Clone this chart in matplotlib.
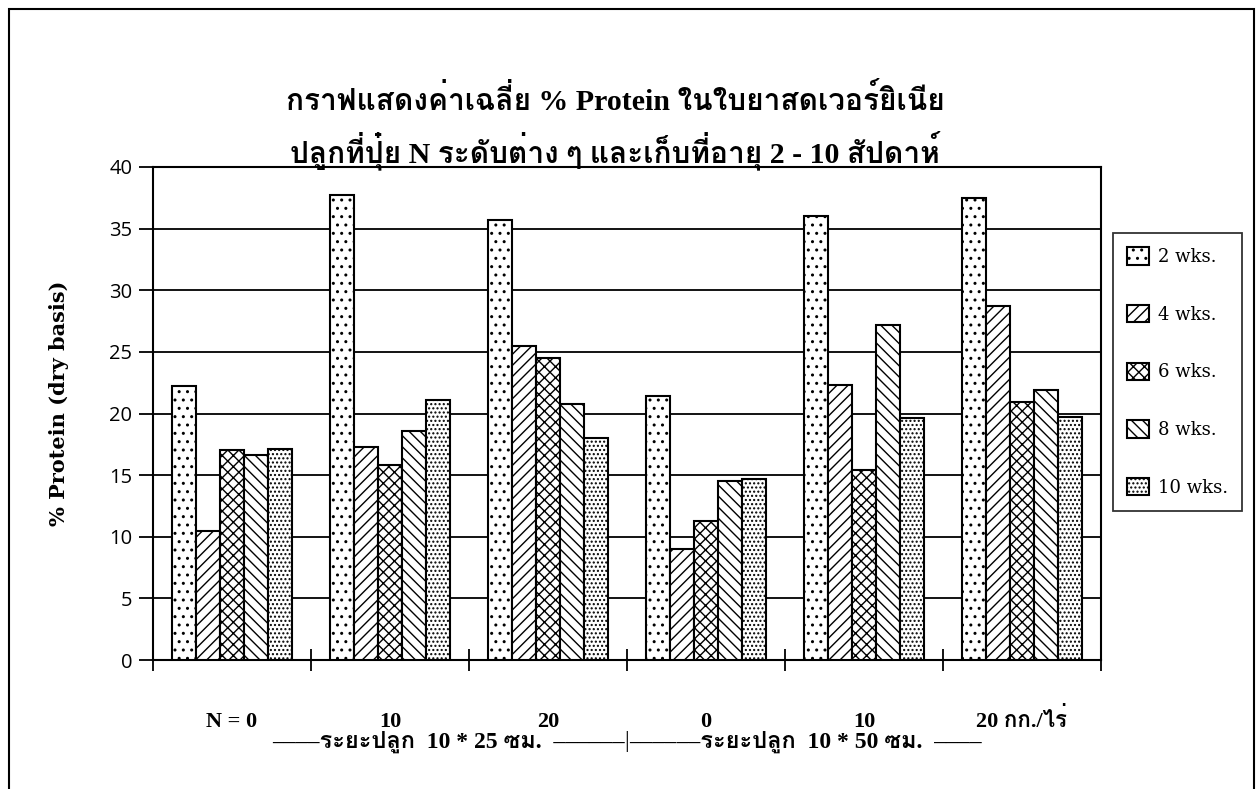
import matplotlib
matplotlib.use("Agg")
import matplotlib.pyplot as plt
import matplotlib.patches as mpatches
import matplotlib.transforms as mtrans
from matplotlib import font_manager as fm
from matplotlib.ft2font import FT2Font
import numpy as np

# ---------------- data ----------------
groups = ["N = 0", "10", "20", "0", "10", "20 กก./ไร่"]
series = ["2 wks.", "4 wks.", "6 wks.", "8 wks.", "10 wks."]
wk2 = [22.2, 37.7, 35.7, 21.4, 36.0, 37.5]
wk4 = [10.5, 17.3, 25.5, 9.0, 22.3, 28.7]
wk6 = [17.0, 15.8, 24.5, 11.3, 15.4, 20.9]
wk8 = [16.6, 18.6, 20.8, 14.5, 27.2, 21.9]
wk10 = [17.1, 21.1, 18.0, 14.7, 19.6, 19.7]
yticks = [0, 5, 10, 15, 20, 25, 30, 35, 40]
title1 = "กราฟแสดงค่าเฉลี่ย % Protein ในใบยาสดเวอร์ยิเนีย"
title2 = "ปลูกที่ปุ๋ย N ระดับต่าง ๆ และเก็บที่อายุ 2 - 10 สัปดาห์"
ylabel = "% Protein (dry basis)"
spacing_left = "––––ระยะปลูก  10 * 25 ซม.  ––––––"
spacing_right = "––––––ระยะปลูก  10 * 50 ซม.  ––––"

# ---------------- fonts ----------------
thai_fonts = []
for f in fm.fontManager.ttflist:
    try:
        if 0x0E01 in FT2Font(f.fname).get_charmap():
            if f.name not in thai_fonts:
                thai_fonts.append(f.name)
    except Exception:
        pass
serif_family = ["Liberation Serif"] + thai_fonts + ["DejaVu Serif", "DejaVu Sans"]
wide_serif = ["DejaVu Serif"] + thai_fonts + ["DejaVu Sans"]
sans_family = ["Open Sans", "DejaVu Sans"]

plt.rcParams["hatch.color"] = "black"
plt.rcParams["hatch.linewidth"] = 1.0

fig = plt.figure(figsize=(12.59, 7.89), dpi=100)
fig.patch.set_facecolor("white")
ax = fig.add_axes([153 / 1259, 1 - 660 / 789, (1101 - 153) / 1259, (660 - 167) / 789])

values = [wk2, wk4, wk6, wk8, wk10]
hatches = ["..", "///", "xxx", "\\\\\\", "...."]
n = len(series)
bw = 0.153
x = np.arange(len(groups)) + 0.5
handles = []
for i, (vals, h, lab) in enumerate(zip(values, hatches, series)):
    bars = ax.bar(x + (i - (n - 1) / 2) * bw, vals, width=bw, facecolor="white",
                  edgecolor="black", linewidth=1.5, hatch=h, label=lab, zorder=3)
    handles.append(bars)

ax.set_xlim(0, len(groups))
ax.set_ylim(0, 40)
ax.set_yticks(yticks)
ax.set_yticklabels([str(v) for v in yticks], fontfamily=sans_family, fontsize=14.5)
ax.yaxis.grid(True, color="black", linewidth=1.3, zorder=0)
ax.set_axisbelow(True)
ax.tick_params(axis="y", direction="out", length=10, width=1.3, pad=5)

ax.set_xticks(np.arange(len(groups) + 1))
ax.set_xticklabels([])
ax.set_xticks(x, minor=True)
ax.set_xticklabels(groups, minor=True, fontfamily=serif_family, fontsize=16, fontweight="bold")
ax.tick_params(axis="x", which="major", direction="inout", length=16, width=1.3)
ax.tick_params(axis="x", which="minor", length=0, pad=48)
for lbl in ax.get_xticklabels(minor=True):
    lbl.set_verticalalignment("baseline")

for s in ax.spines.values():
    s.set_linewidth(1.5)
    s.set_color("black")

ax.set_ylabel(ylabel, fontfamily=wide_serif, fontsize=15, fontweight="bold")
ax.yaxis.set_label_coords((69 - 153) / 948, 0.52)

# second line of x labels
trans = mtrans.blended_transform_factory(ax.transData, ax.transAxes)
yline = (660 - 742) / 493
ax.text(2.985, yline, spacing_left, transform=trans, ha="right", va="center",
        fontfamily=serif_family, fontsize=17, fontweight="bold")
ax.text(3.0, yline, "|", transform=trans, ha="center", va="center",
        fontfamily=serif_family, fontsize=17)
ax.text(3.015, yline, spacing_right, transform=trans, ha="left", va="center",
        fontfamily=serif_family, fontsize=17, fontweight="bold")

# titles
fig.text(615 / 1259, 1 - 100 / 789, title1, ha="center", va="center",
         fontfamily=serif_family, fontsize=21.5, fontweight="bold")
fig.text(615 / 1259, 1 - 150 / 789, title2, ha="center", va="center",
         fontfamily=serif_family, fontsize=21.5, fontweight="bold")

# legend
leg = fig.legend(handles=handles, labels=series, loc="center",
                 bbox_to_anchor=((1112 + 1243) / 2 / 1259, 1 - 372 / 789),
                 prop=fm.FontProperties(family=wide_serif, size=13),
                 frameon=True, fancybox=False, shadow=False, borderpad=0.8,
                 labelspacing=2.15, handlelength=1.2, handleheight=1.1,
                 handletextpad=0.5, borderaxespad=0)
leg.get_frame().set_edgecolor("black")
leg.get_frame().set_linewidth(1.3)

# outer frame
frame = mpatches.Rectangle((9 / 1259, -0.02), (1254 - 9) / 1259, 1 - 9 / 789 + 0.02,
                           transform=fig.transFigure, fill=False, edgecolor="black",
                           linewidth=1.5, clip_on=False)
fig.patches.append(frame)

fig.savefig("out.png", dpi=100)
